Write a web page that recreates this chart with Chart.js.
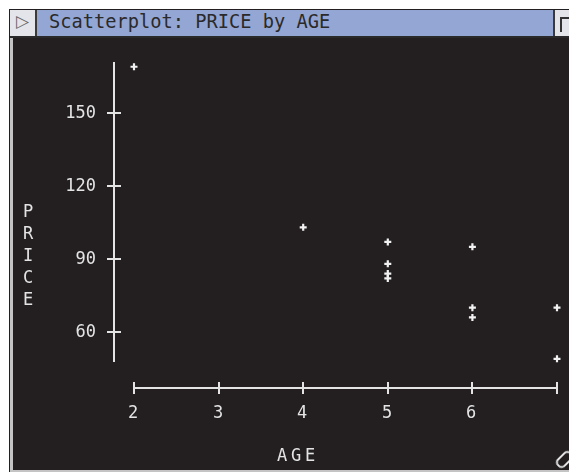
<!DOCTYPE html>
<html>
<head>
<meta charset="utf-8">
<script src="https://cdn.jsdelivr.net/npm/chart.js@4"></script>
<style>
  html, body { margin:0; padding:0; background:#fff; width:569px; height:474px; overflow:hidden; }
  .abs { position:absolute; }
  #win { left:9px; top:9px; width:560px; height:463px; background:#231f20; }
  #titlebar { left:10px; top:10px; width:559px; height:26px; background:#94a6d3; border-bottom:2px solid #2a2a2a; box-sizing:content-box; }
  #lbox { left:10px; top:10px; width:25px; height:26px; background:#e4e5ea; border-right:2px solid #3a3a3a; }
  #lbox span { position:absolute; left:6px; top:1px; font:17px 'DejaVu Sans'; color:#666; }
  #rbox { left:553px; top:10px; width:16px; height:26px; background:#e4e5ea; border-left:2px solid #3a3a3a; }
  #ricon { left:560px; top:17px; width:9px; height:13px; border-left:2px solid #333; border-top:2px solid #333; }
  #ttl { left:49px; top:11px; height:24px; line-height:24px; font:18.7px 'DejaVu Sans Mono'; color:#2a2a2a; white-space:pre; }
  #lstrip { left:10px; top:38px; width:3px; height:434px; background:#c4c4c4; }
  #bstrip { left:10px; top:470px; width:559px; height:2px; background:#c4c4c4; }
  #c { left:13px; top:38px; }
  #grow { left:555px; top:454px; width:15px; height:7px; border:2px solid #e6e6e6; border-radius:5px; transform:rotate(-45deg); }
</style>
</head>
<body>
<div id="win" class="abs"></div>
<div id="titlebar" class="abs"></div>
<div id="lbox" class="abs"><span>▷</span></div>
<div id="rbox" class="abs"></div>
<div id="ricon" class="abs"></div>
<div id="ttl" class="abs">Scatterplot: PRICE by AGE</div>
<div id="lstrip" class="abs"></div>
<div id="bstrip" class="abs"></div>
<canvas id="c" class="abs" width="556" height="432"></canvas>
<div id="grow" class="abs"></div>
<script>
// ---- data ----
const AGE   = [2, 4, 5, 5, 5, 5, 6, 6, 6, 7, 7];
const PRICE = [169, 103, 97, 88, 84, 82, 95, 70, 66, 70, 49];

// ---- axes / ticks ----
const X_TICKS = [2, 3, 4, 5, 6, 7];
const X_TICK_LABELS = ['2', '3', '4', '5', '6', ''];
const Y_TICKS = [60, 90, 120, 150];
const Y_TICK_LABELS = ['60', '90', '120', '150'];
const X_TITLE = 'AGE';
const Y_TITLE = 'PRICE';
const X_RANGE = [1.7636, 7];
const Y_RANGE = [36.99, 170.96];
const Y_AXIS_LINE = [47.67, 170.96];
const X_AXIS_LINE = [2, 7];

const FG = '#e4e4e4';
const FONT = "17px 'DejaVu Sans Mono'";

const axesPlugin = {
  id: 'macAxes',
  beforeDatasetsDraw(chart) {
    const ctx = chart.ctx, xs = chart.scales.x, ys = chart.scales.y, ca = chart.chartArea;
    ctx.save();
    ctx.strokeStyle = FG;
    ctx.fillStyle = FG;
    ctx.lineWidth = 2;
    // y axis
    const ax = ca.left;
    ctx.beginPath();
    ctx.moveTo(ax, ys.getPixelForValue(Y_AXIS_LINE[1]));
    ctx.lineTo(ax, ys.getPixelForValue(Y_AXIS_LINE[0]));
    ctx.stroke();
    ctx.font = FONT;
    ctx.textAlign = 'right';
    ctx.textBaseline = 'middle';
    Y_TICKS.forEach((v, i) => {
      const py = Math.round(ys.getPixelForValue(v));
      ctx.beginPath();
      ctx.moveTo(ax - 7, py);
      ctx.lineTo(ax + 7, py);
      ctx.stroke();
      ctx.fillText(Y_TICK_LABELS[i], ax - 18, py + 1);
    });
    // x axis
    const ay = ca.bottom;
    ctx.beginPath();
    ctx.moveTo(xs.getPixelForValue(X_AXIS_LINE[0]), ay);
    ctx.lineTo(xs.getPixelForValue(X_AXIS_LINE[1]), ay);
    ctx.stroke();
    ctx.textAlign = 'center';
    X_TICKS.forEach((v, i) => {
      const px = Math.round(xs.getPixelForValue(v));
      ctx.beginPath();
      ctx.moveTo(px, ay - 6);
      ctx.lineTo(px, ay + 6);
      ctx.stroke();
      ctx.fillText(X_TICK_LABELS[i], px - 1, ay + 26);
    });
    // axis titles
    const xc = 283, yc = 419;
    X_TITLE.split('').forEach((ch, i) => {
      ctx.fillText(ch, xc + (i - (X_TITLE.length - 1) / 2) * 14, yc);
    });
    Y_TITLE.split('').forEach((ch, i) => {
      ctx.fillText(ch, 15, 175 + i * 22);
    });
    ctx.restore();
  }
};

new Chart(document.getElementById('c'), {
  type: 'scatter',
  data: {
    datasets: [{
      data: AGE.map((a, i) => ({ x: a, y: PRICE[i] })),
      pointStyle: 'cross',
      pointRadius: 3.5,
      pointBorderWidth: 2.2,
      pointBorderColor: '#f2f2f2',
      pointBackgroundColor: '#f2f2f2',
      showLine: false,
      clip: false
    }]
  },
  options: {
    responsive: false,
    animation: false,
    devicePixelRatio: 1,
    layout: { padding: { left: 101, top: 24, right: 12, bottom: 82 } },
    scales: {
      x: { type: 'linear', min: X_RANGE[0], max: X_RANGE[1], display: false },
      y: { type: 'linear', min: Y_RANGE[0], max: Y_RANGE[1], display: false }
    },
    plugins: { legend: { display: false }, tooltip: { enabled: false }, title: { display: false } },
    events: []
  },
  plugins: [axesPlugin]
});
</script>
</body>
</html>
